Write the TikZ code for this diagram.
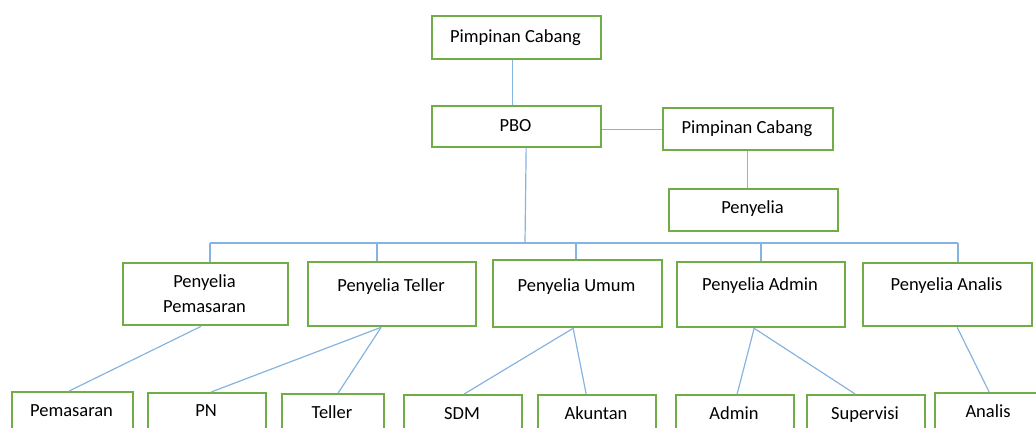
\documentclass[tikz,border=0pt]{standalone}
\usepackage{fontspec}
\setmainfont{Carlito}
\definecolor{boxgreen}{HTML}{70AD47}
\definecolor{linkblue}{HTML}{86B4E0}
\tikzset{
  box/.style={draw=boxgreen, line width=2.3pt, fill=white, inner sep=0pt, anchor=north west},
  txt/.style={anchor=base, inner sep=0pt, font=\fontsize{18.5}{25}\selectfont, align=center},
  link/.style={draw=linkblue, line width=1.2pt}
}
\begin{document}
\begin{tikzpicture}[x=1pt, y=-1pt]
\useasboundingbox (0,0) rectangle (1036,428);
\clip (0,0) rectangle (1036,428);
% connectors first (behind boxes)
% boxes
\node[box, minimum width=169pt, minimum height=43pt] (PC1) at (431,15) {};
\node[box, minimum width=169pt, minimum height=41pt] (PBO) at (431,105) {};
\node[box, minimum width=170pt, minimum height=42pt] (PC2) at (662,107) {};
\node[box, minimum width=169pt, minimum height=42pt] (PEN) at (668,188) {};
\node[box, minimum width=165pt, minimum height=62pt] (PP) at (122,262) {};
\node[box, minimum width=168pt, minimum height=64pt] (PT) at (307,261) {};
\node[box, minimum width=169pt, minimum height=67pt] (PU) at (492,259) {};
\node[box, minimum width=168pt, minimum height=65pt] (PA) at (676,261) {};
\node[box, minimum width=169pt, minimum height=63pt] (PAn) at (862,262) {};
\node[box, minimum width=121pt, minimum height=60pt] (Pem) at (11,391) {};
\node[box, minimum width=118pt, minimum height=60pt] (PN) at (147,392) {};
\node[box, minimum width=102pt, minimum height=60pt] (Tel) at (281,393) {};
\node[box, minimum width=118pt, minimum height=60pt] (SDM) at (403,394) {};
\node[box, minimum width=118pt, minimum height=60pt] (Aku) at (537,394) {};
\node[box, minimum width=118pt, minimum height=60pt] (Adm) at (675,394) {};
\node[box, minimum width=118pt, minimum height=60pt] (Sup) at (806,394) {};
\node[box, minimum width=108pt, minimum height=60pt] (Ana) at (934,392) {};
% texts
\node[txt] (tPC1) at (515.5,42.7) {Pimpinan Cabang};
\node[txt] (tPBO) at (515.5,131) {PBO};
\node[txt] (tPC2) at (747,133.3) {Pimpinan Cabang};
\node[txt] (tPEN) at (752.5,213.3) {Penyelia};
\node[txt] (tPP1) at (204.5,287.3) {Penyelia};
\node[txt] (tPP2) at (204.5,312.7) {Pemasaran};
\node[txt] (tPT) at (391,291.7) {Penyelia Teller};
\node[txt] (tPU) at (576.5,291.7) {Penyelia Umum};
\node[txt] (tPA) at (760,290.3) {Penyelia Admin};
\node[txt] (tPAn) at (946.5,290.3) {Penyelia Analis};
\node[txt] (tPem) at (71.5,416.7) {Pemasaran};
\node[txt] (tPN) at (206,416) {PN};
\node[txt] (tTel) at (332,418.7) {Teller};
\node[txt] (tSDM) at (462,419.3) {SDM};
\node[txt] (tAku) at (596,419.3) {Akuntan};
\node[txt] (tAdm) at (734,419.3) {Admin};
\node[txt] (tSup) at (865,419.3) {Supervisi};
\node[txt] (tAna) at (988,417.3) {Analis};
% bus coordinates
\coordinate (bPBO) at (525,243);
\coordinate (b1) at (210,243);
\coordinate (b2) at (377,243);
\coordinate (b3) at (576,243);
\coordinate (b4) at (761,243);
\coordinate (b5) at (958,243);
% connectors
\begin{scope}[on background layer/.style={}]
\draw[link] ([xshift=-4.5pt]PC1.south) -- ([xshift=-4.5pt]PBO.north);
\draw[link] (PC2.west -| PBO.east) -- (PC2.west);
\draw[link] ([xshift=-1pt]PC2.south) -- ([xshift=-6.5pt]PEN.north);
\draw[link] ([xshift=9.5pt]PBO.south) -- (bPBO);
\draw[link] (b1) -- (b5);
\draw[link] (b1) -- (b1 |- PP.north);
\draw[link] (b2) -- (b2 |- PT.north);
\draw[link] (b3) -- (b3 |- PU.north);
\draw[link] (b4) -- (b4 |- PA.north);
\draw[link] (b5) -- (b5 |- PAn.north);
\draw[link] ([xshift=-4.5pt]PP.south) -- ([xshift=-3.5pt]Pem.north);
\draw[link] ([xshift=-11pt]PT.south) -- ([xshift=4pt]PN.north);
\draw[link] ([xshift=-11pt]PT.south) -- ([xshift=5pt]Tel.north);
\draw[link] ([xshift=-4.5pt]PU.south) -- ([xshift=1pt]SDM.north);
\draw[link] ([xshift=-4.5pt]PU.south) -- ([xshift=-11pt]Aku.north);
\draw[link] ([xshift=-7pt]PA.south) -- ([xshift=2pt]Adm.north);
\draw[link] ([xshift=-7pt]PA.south) -- ([xshift=-11pt]Sup.north);
\draw[link] ([xshift=9.5pt]PAn.south) -- (Ana.north);
\end{scope}
\end{tikzpicture}
\end{document}
